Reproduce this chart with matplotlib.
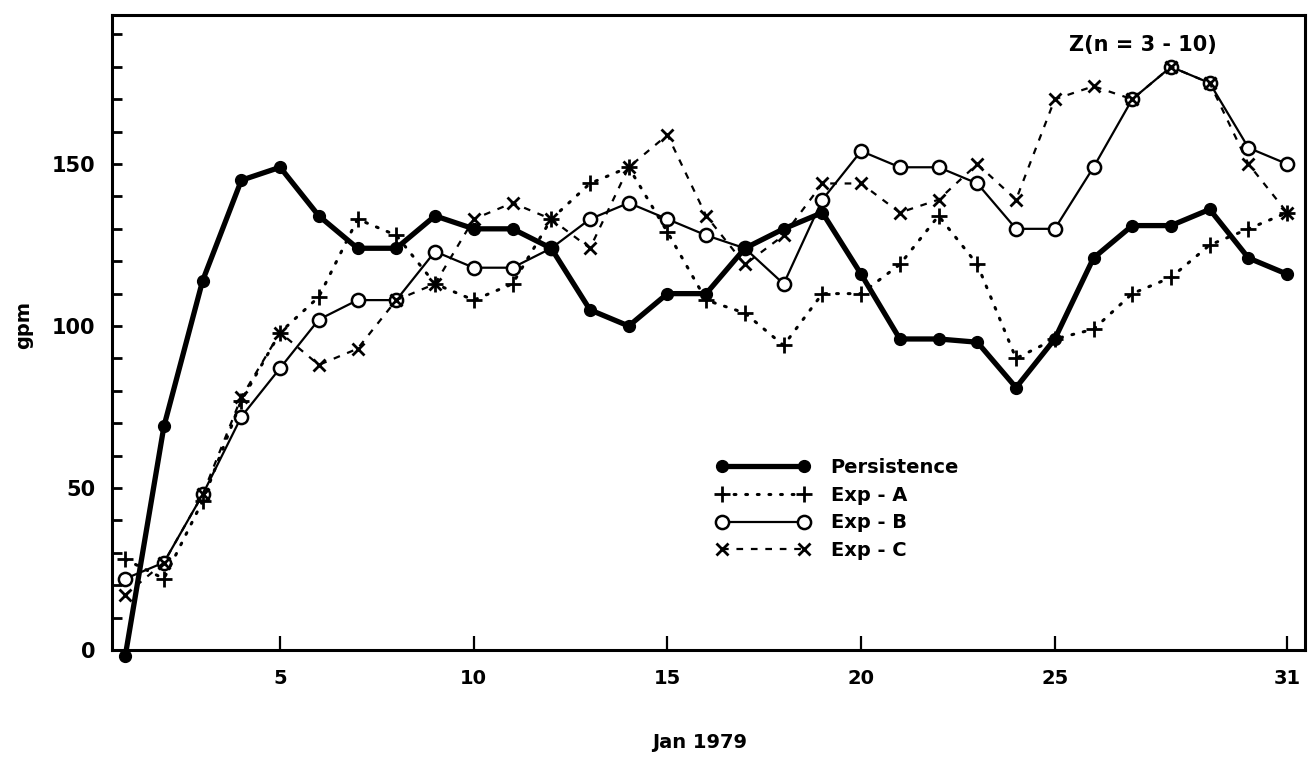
import numpy as np
import matplotlib
matplotlib.use("Agg")
import matplotlib.pyplot as plt
from matplotlib.ticker import MultipleLocator

# daily rms error of Z (n = 3-10), Jan 1979
days = np.arange(1, 32)
persistence = [-2, 69, 114, 145, 149, 134, 124, 124, 134, 130, 130, 124, 105, 100, 110, 110,
               124, 130, 135, 116, 96, 96, 95, 81, 96, 121, 131, 131, 136, 121, 116]
exp_a = [28, 22, 46, 77, 98, 109, 133, 128, 113, 108, 113, 133, 144, 149, 129, 108,
         104, 94, 110, 110, 119, 134, 119, 90, 96, 99, 110, 115, 125, 130, 135]
exp_b = [22, 27, 48, 72, 87, 102, 108, 108, 123, 118, 118, 124, 133, 138, 133, 128,
         124, 113, 139, 154, 149, 149, 144, 130, 130, 149, 170, 180, 175, 155, 150]
exp_c = [17, 27, 48, 78, 98, 88, 93, 108, 113, 133, 138, 133, 124, 149, 159, 134,
         119, 128, 144, 144, 135, 139, 150, 139, 170, 174, 170, 180, 175, 150, 135]
xticks = [5, 10, 15, 20, 25, 31]
yticks = [0, 50, 100, 150]

plt.rcParams['font.family'] = 'DejaVu Sans'
plt.rcParams['font.weight'] = 'bold'

fig = plt.figure(figsize=(13.13, 7.6), dpi=100)
ax = fig.add_axes([112 / 1313, 1 - 650 / 760, (1305 - 112) / 1313, (650 - 15) / 760])

ax.plot(days, exp_b, '-', color='black', lw=1.6, marker='o', ms=9.5,
        mfc='white', mec='black', mew=1.8, label='Exp - B', zorder=3)
ax.plot(days, exp_c, color='black', lw=1.6, ls=(0, (3, 3.5)), marker='x', ms=8,
        mew=2, label='Exp - C', zorder=4)
ax.plot(days, exp_a, color='black', lw=2.2, ls=(0, (0.6, 3.2)), dash_capstyle='round',
        marker='+', ms=11, mew=2, label='Exp - A', zorder=4)
ax.plot(days, persistence, '-', color='black', lw=3.8, marker='o', ms=8.5,
        label='Persistence', zorder=5, clip_on=False)

ax.set_xlim(0.66, 31.46)
ax.set_ylim(0, 196)
ax.set_xticks(xticks)
ax.set_yticks(yticks)
ax.yaxis.set_minor_locator(MultipleLocator(10))
ax.tick_params(axis='x', direction='in', length=10, width=1.6, pad=14, labelsize=14)
ax.tick_params(axis='y', which='both', direction='in', length=7, width=2, pad=12, labelsize=15)
for s in ax.spines.values():
    s.set_linewidth(2.2)

# axis titles placed in figure pixels
fig.text(24 / 1313, 1 - 325 / 760, 'gpm', rotation=90, ha='center', va='center',
         fontsize=14, fontweight='bold')
fig.text(700 / 1313, 1 - 742 / 760, 'Jan 1979', ha='center', va='center',
         fontsize=14, fontweight='bold')
fig.text(1143 / 1313, 1 - 45 / 760, 'Z(n = 3 - 10)', ha='center', va='center',
         fontsize=15, fontweight='bold')

handles, labels = ax.get_legend_handles_labels()
order = [3, 2, 0, 1]
ax.legend([handles[i] for i in order], [labels[i] for i in order],
          loc='upper left', bbox_to_anchor=(716 / 1313, 1 - 458 / 760),
          bbox_transform=fig.transFigure, frameon=False, borderpad=0,
          borderaxespad=0, numpoints=2, handlelength=4.8, handletextpad=1.1,
          labelspacing=0.45, prop={'size': 14, 'weight': 'bold'})

fig.savefig('out.png', dpi=100)
